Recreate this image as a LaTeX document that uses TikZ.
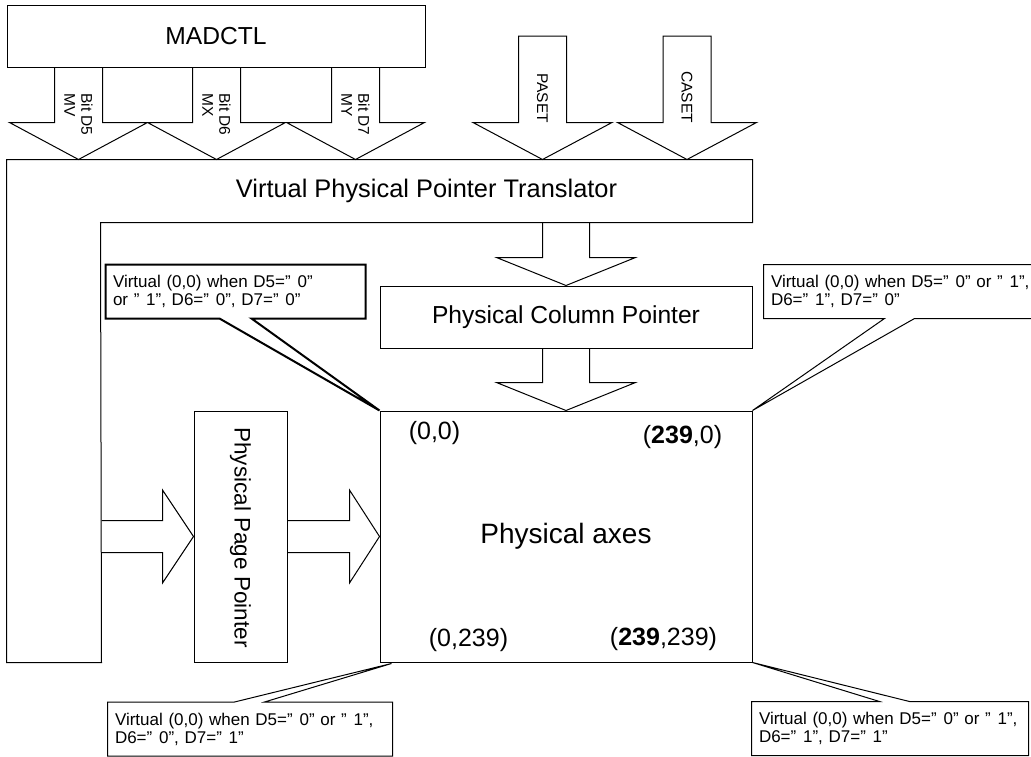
\documentclass[tikz,border=0pt]{standalone}
\usepackage{fontspec}
\setmainfont{Liberation Sans}
\usetikzlibrary{calc, positioning}

\newcommand\qt[1]{"\hspace{0.4em}#1"}
\newcommand\blkdown[6]{%
  \draw[blk] let \p1=(#1), \p2=(#2) in
    (\x1-#3,\y1) -- (\x1-#3,\y2+#5) -- (\x1-#4,\y2+#5) -- (\x1,\y2)
    -- (\x1+#4,\y2+#5) -- (\x1+#3,\y2+#5) -- (\x1+#3,\y1) #6;}
\newcommand\blkright[5]{%
  \draw[blk] let \p1=(#1), \p2=(#2) in
    (\x1,\y2+#3) -- (\x2-#5,\y2+#3) -- (\x2-#5,\y2+#4) -- (\x2,\y2)
    -- (\x2-#5,\y2-#4) -- (\x2-#5,\y2-#3) -- (\x1,\y2-#3);}

\begin{document}
\begin{tikzpicture}[
  x=1pt, y=-1pt,
  line width=1pt,
  box/.style={
    draw,
    line width=1pt,
    inner sep=0pt,
    align=center,
    font=\fontsize{24.6}{28}\selectfont,
  },
  ghost/.style={
    inner sep=0pt,
    align=center,
    font=\fontsize{25.4}{28}\selectfont,
  },
  blk/.style={draw, line width=1pt, line join=miter},
  tag/.style={
    inner sep=0pt,
    align=left,
    font=\fontsize{15.5}{17}\selectfont,
  },
  coord/.style={inner sep=0pt, font=\fontsize{25}{28}\selectfont},
  note/.style={
    inner xsep=7pt,
    inner ysep=0pt,
    align=left,
    minimum height=53pt,
    font=\fontsize{17}{18}\selectfont,
  },
]
  \useasboundingbox (0,0) rectangle (1031,756);

  \node[box, minimum width=418pt, minimum height=62pt] (mad) at (216,36) {MADCTL};
  \node[ghost, minimum width=651pt, minimum height=62pt] (vppt) at (426.5,191)
    {Virtual Physical Pointer Translator};
  \node[ghost, minimum width=94pt, minimum height=502pt] (leg) at (54,411) {};
  \draw (leg.north west) -- (vppt.north east) -- (vppt.south east)
    -- (vppt.south west) -- (leg.south east) -- (leg.south west) -- cycle;

  \node[box, minimum width=372pt, minimum height=62pt] (col) at (566,317)
    {Physical Column Pointer};
  \node[box, minimum width=372pt, minimum height=251pt,
    font=\fontsize{28}{32}\selectfont] (axes) at (566,536.5) {Physical axes};
  \node[box, minimum width=93pt, minimum height=251pt] (page) at (240.5,536.5) {};
  \node[ghost, rotate=-90, font=\fontsize{22.5}{26}\selectfont] (pagetxt)
    at ($(page.center)+(0,1)$) {Physical Page Pointer};

  \coordinate (mv) at ($(mad.south west)+(72,0)$);
  \coordinate (mx) at ($(mad.south west)+(210,0)$);
  \coordinate (my) at ($(mad.south west)+(349,0)$);
  \coordinate (pa) at (542.5,36);
  \coordinate (ca) at (687,36);

  \blkdown{mv}{mv |- vppt.north}{24pt}{69pt}{37pt}{}
  \blkdown{mx}{mx |- vppt.north}{24pt}{69pt}{37pt}{}
  \blkdown{my}{my |- vppt.north}{24pt}{69pt}{37pt}{}
  \blkdown{pa}{pa |- vppt.north}{24pt}{69.5pt}{37pt}{-- cycle}
  \blkdown{ca}{ca |- vppt.north}{24pt}{69.5pt}{37pt}{-- cycle}
  \blkdown{col.north |- vppt.south}{col.north}{23.5pt}{69.5pt}{28pt}{}
  \blkdown{col.south}{axes.north}{23.5pt}{69.5pt}{28pt}{}
  \blkright{leg.east |- page.west}{page.west}{16pt}{46.5pt}{31pt}
  \blkright{page.east}{axes.west}{16pt}{46.5pt}{30pt}

  \node[tag, rotate=-90] (tmv) at ($(mv)+(0,47)$) {Bit D5\\MV};
  \node[tag, rotate=-90] (tmx) at ($(mx)+(0,47)$) {Bit D6\\MX};
  \node[tag, rotate=-90] (tmy) at ($(my)+(0,47)$) {Bit D7\\MY};
  \node[tag, rotate=-90] (tpa) at ($(pa)+(0,62)$) {PASET};
  \node[tag, rotate=-90] (tca) at ($(ca)+(0,61)$) {CASET};

  \node[coord] (c00) at ($(axes.north west)+(55,23)$) {(0,0)};
  \node[coord] (cx0) at ($(axes.north west)+(303,27)$) {(\textbf{239},0)};
  \node[coord] (c0y) at ($(axes.south west)+(89,-22)$) {(0,239)};
  \node[coord] (cxy) at ($(axes.south west)+(284,-23)$) {(\textbf{239},239)};

  \node[note, text width=245pt] (nTL) at (235.5,291.5)
    {Virtual (0,0) when D5=\qt{0}\\or \qt{1}, D6=\qt{0}, D7=\qt{0}};
  \node[note, text width=262pt] (nTR) at (902,291.5)
    {Virtual (0,0) when D5=\qt{0} or \qt{1},\\D6=\qt{1}, D7=\qt{0}};
  \node[note, text width=270pt] (nBL) at (250,729)
    {Virtual (0,0) when D5=\qt{0} or \qt{1},\\D6=\qt{0}, D7=\qt{1}};
  \node[note, text width=262pt] (nBR) at (890,728.5)
    {Virtual (0,0) when D5=\qt{0} or \qt{1},\\D6=\qt{1}, D7=\qt{1}};

  \draw[line width=2pt] (nTL.north west) -- (nTL.north east) -- (nTL.south east)
    -- ($(nTL.south west)+(146,0)$) -- (axes.north west)
    -- ($(nTL.south west)+(114,0)$) -- (nTL.south west) -- cycle;
  \draw (nTR.north west) -- (nTR.north east) -- (nTR.south east)
    -- ($(nTR.south west)+(151,0)$) -- (axes.north east)
    -- ($(nTR.south west)+(121,0)$) -- (nTR.south west) -- cycle;
  \draw (nBL.south west) -- (nBL.north west) -- ($(nBL.north west)+(127,0)$)
    -- ($(axes.south west)+(12,1)$) -- ($(nBL.north west)+(157,0)$)
    -- (nBL.north east) -- (nBL.south east) -- cycle;
  \draw (nBR.south west) -- (nBR.north west) -- ($(nBR.north west)+(128,0)$)
    -- (axes.south east) -- ($(nBR.north west)+(158,0)$)
    -- (nBR.north east) -- (nBR.south east) -- cycle;
\end{tikzpicture}
\end{document}
